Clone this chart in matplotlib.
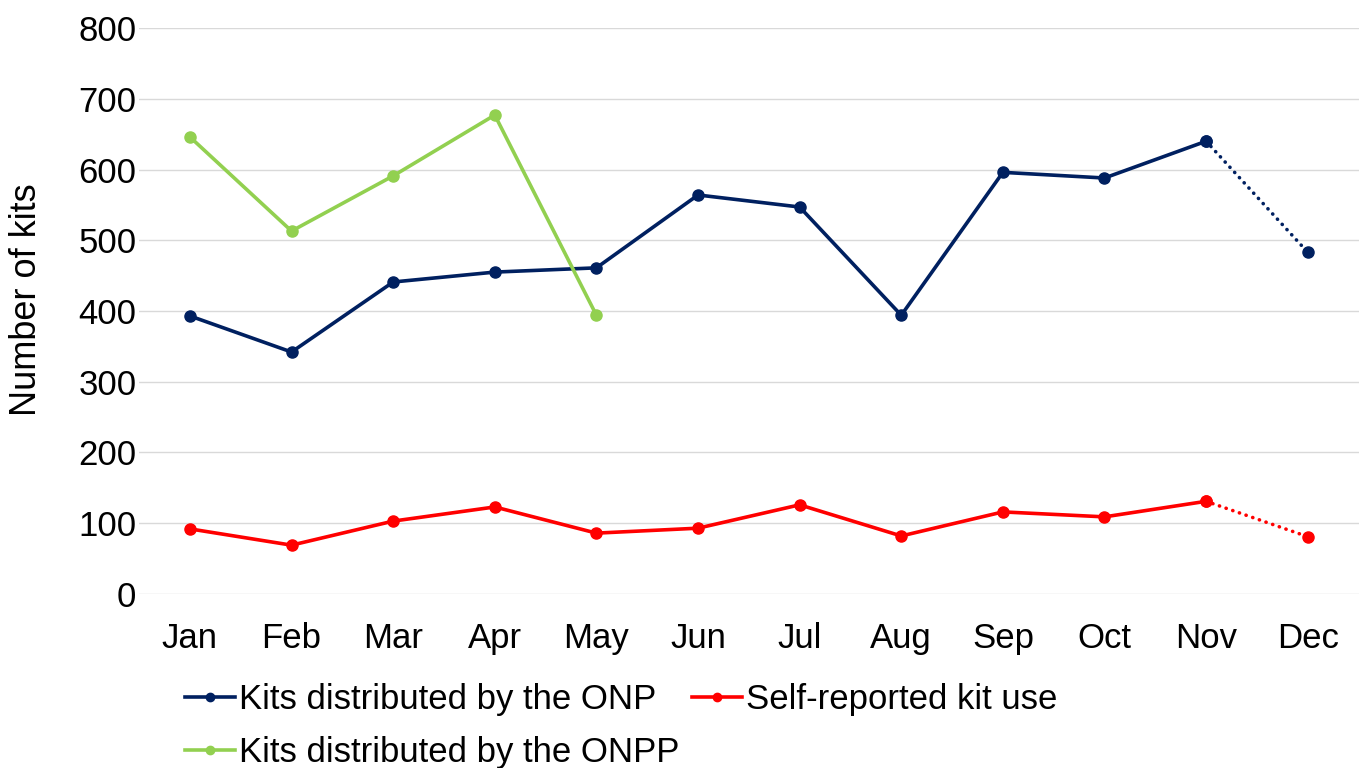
import matplotlib
matplotlib.use("Agg")
import matplotlib.pyplot as plt
from matplotlib.lines import Line2D

months = ["Jan", "Feb", "Mar", "Apr", "May", "Jun", "Jul", "Aug", "Sep", "Oct", "Nov", "Dec"]
onp = [393, 342, 441, 455, 461, 564, 547, 394, 596, 588, 640, 483]
self_use = [92, 69, 103, 123, 86, 93, 126, 82, 116, 109, 131, 81]
onpp = [646, 513, 591, 677, 394]
yticks = [0, 100, 200, 300, 400, 500, 600, 700, 800]

plt.rcParams['font.family'] = ['Liberation Sans', 'DejaVu Sans']

fig = plt.figure(figsize=(13.64, 7.68), dpi=100)
ax = fig.add_axes([0.102, 0.2266, 0.894, 0.7369])

navy = "#002060"
red = "#FF0000"
green = "#92D050"
x = list(range(len(months)))
LW = 2.6
MS = 8
DOT = (0, (0.05, 1.9))

ax.plot(x[:11], onp[:11], color=navy, lw=LW, marker='o', ms=MS, zorder=3)
ax.plot(x[10:], onp[10:], color=navy, lw=LW, ls=DOT, dash_capstyle='round', marker='o', ms=MS, zorder=3)
ax.plot(x[:11], self_use[:11], color=red, lw=LW, marker='o', ms=MS, zorder=3)
ax.plot(x[10:], self_use[10:], color=red, lw=LW, ls=DOT, dash_capstyle='round', marker='o', ms=MS, zorder=3)
ax.plot(x[:len(onpp)], onpp, color=green, lw=LW, marker='o', ms=MS, zorder=3)

ax.set_xlim(-0.5, 11.5)
ax.set_ylim(0, 800)
ax.set_yticks(yticks)
ax.set_xticks(x)
ax.set_xticklabels(months)
ax.tick_params(axis='both', length=0, labelsize=25, colors='black')
ax.tick_params(axis='x', pad=20)
ax.tick_params(axis='y', pad=2)
ax.grid(axis='y', color='#D9D9D9', lw=1)
ax.set_axisbelow(True)
for s in ax.spines.values():
    s.set_visible(False)
ax.set_ylabel("Number of kits", fontsize=26, labelpad=25)
ax.yaxis.label.set_y(0.52)

handles = [
    Line2D([], [], color=navy, lw=LW, marker='o', ms=6),
    Line2D([], [], color=green, lw=LW, marker='o', ms=6),
    Line2D([], [], color=red, lw=LW, marker='o', ms=6),
]
labels = ["Kits distributed by the ONP", "Kits distributed by the ONPP", "Self-reported kit use"]
fig.legend(handles, labels, ncol=2, loc='upper left', bbox_to_anchor=(0.1356, 0.111),
           frameon=False, fontsize=25, handlelength=1.45, handletextpad=0.1,
           columnspacing=0.37, labelspacing=0.58, borderpad=0, borderaxespad=0)

fig.savefig("out.png", dpi=100)
